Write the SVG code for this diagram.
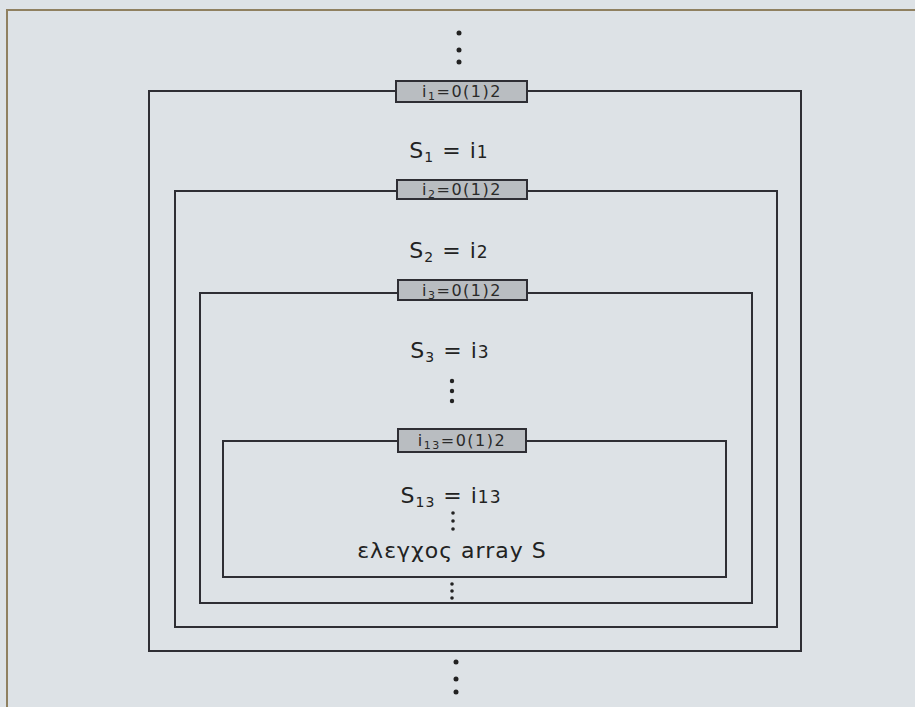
<svg xmlns="http://www.w3.org/2000/svg" width="915" height="707" viewBox="0 0 915 707">
<defs>
<style>
.loop{fill:none;stroke:#2e2e34;stroke-width:2}
.lbl{fill:#b9bdc1;stroke:#2e2e34;stroke-width:2}
.lt{font-family:"DejaVu Sans",sans-serif;font-size:16px;fill:#2a2a2a;text-anchor:middle;letter-spacing:1.5px}
.tx{font-family:"DejaVu Sans",sans-serif;font-size:22px;fill:#222;text-anchor:middle;letter-spacing:1px}
.dot{fill:#222}
</style>
</defs>
<rect x="0" y="0" width="915" height="707" fill="#dde2e6"/>
<path d="M7,707 V10 H915" fill="none" stroke="#8f8060" stroke-width="2"/>
<g id="dots-top" class="dot"><circle cx="459" cy="33" r="2.5"/><circle cx="459" cy="50" r="2.5"/><circle cx="459" cy="62" r="2.5"/></g>
<g id="loop1">
<rect class="loop" x="149" y="91" width="652" height="560"/>
<rect class="lbl" x="396" y="81" width="131" height="21"/>
<text class="lt" x="462" y="97">i<tspan font-size="11" dy="3">1</tspan><tspan dy="-3">=0(1)2</tspan></text>
<text class="tx" x="449" y="158">S<tspan font-size="14" dy="4">1</tspan><tspan dy="-4"> = i</tspan><tspan font-size="17">1</tspan></text>
</g>
<g id="loop2">
<rect class="loop" x="175" y="191" width="602" height="436"/>
<rect class="lbl" x="397" y="180" width="130" height="19"/>
<text class="lt" x="462" y="195">i<tspan font-size="11" dy="3">2</tspan><tspan dy="-3">=0(1)2</tspan></text>
<text class="tx" x="449" y="258">S<tspan font-size="14" dy="4">2</tspan><tspan dy="-4"> = i</tspan><tspan font-size="17">2</tspan></text>
</g>
<g id="loop3">
<rect class="loop" x="200" y="293" width="552" height="310"/>
<rect class="lbl" x="398" y="280" width="129" height="20"/>
<text class="lt" x="462" y="296">i<tspan font-size="11" dy="3">3</tspan><tspan dy="-3">=0(1)2</tspan></text>
<text class="tx" x="450" y="358">S<tspan font-size="14" dy="4">3</tspan><tspan dy="-4"> = i</tspan><tspan font-size="17">3</tspan></text>
<g class="dot"><circle cx="452" cy="381" r="2.2"/><circle cx="452" cy="391" r="2.2"/><circle cx="452" cy="401" r="2.2"/></g>
</g>
<g id="loop13">
<rect class="loop" x="223" y="441" width="503" height="136"/>
<rect class="lbl" x="398" y="429" width="128" height="23"/>
<text class="lt" x="462" y="446">i<tspan font-size="11" dy="3">13</tspan><tspan dy="-3">=0(1)2</tspan></text>
<text class="tx" x="451" y="503">S<tspan font-size="14" dy="4">13</tspan><tspan dy="-4"> = i</tspan><tspan font-size="17">13</tspan></text>
<g class="dot"><circle cx="453" cy="513" r="1.8"/><circle cx="453" cy="521" r="1.8"/><circle cx="453" cy="529" r="1.8"/></g>
<text class="tx" x="452" y="558">ελεγχος array S</text>
<g class="dot"><circle cx="452" cy="584" r="1.8"/><circle cx="452" cy="591" r="1.8"/><circle cx="452" cy="598" r="1.8"/></g>
</g>
<g id="dots-bottom" class="dot"><circle cx="456" cy="662" r="2.5"/><circle cx="456" cy="679" r="2.5"/><circle cx="456" cy="692" r="2.5"/></g>
</svg>
